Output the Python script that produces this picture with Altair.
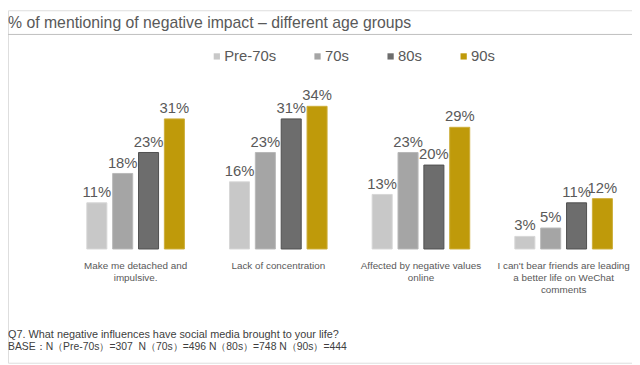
import altair as alt
import pandas as pd

categories = [
    "Make me detached and\nimpulsive.",
    "Lack of concentration",
    "Affected by negative values\nonline",
    "I can't bear friends are leading\na better life on WeChat\ncomments",
]
series = ["Pre-70s", "70s", "80s", "90s"]
values = {
    "Pre-70s": [11, 16, 13, 3],
    "70s": [18, 23, 23, 5],
    "80s": [23, 31, 20, 11],
    "90s": [31, 34, 29, 12],
}
colors = ["#C8C8C8", "#A5A5A5", "#6D6D6D", "#BF9A0A"]
strokes = ["#D6D6D6", "#B8B8B8", "#4F4F4F", "#CDAE3A"]

title_text = "% of mentioning of negative impact \u2013 different age groups"
foot1 = "Q7. What negative influences have social media brought to your life?"
foot2 = ("BASE\uff1aN\uff08Pre-70s\uff09=307\u00a0\u00a0N\uff0870s\uff09=496 "
         "N\uff0880s\uff09=748 N\uff0890s\uff09=444")

rows = []
for s in series:
    for c, v in zip(categories, values[s]):
        rows.append({"category": c, "series": s, "value": v, "label": f"{v}%"})
df = pd.DataFrame(rows)
cat_df = pd.DataFrame({"category": categories})

FONT = "Liberation Sans"
GRAY = "#595959"

xscale = alt.Scale(domain=categories, range=[57, 635], paddingInner=0.316, paddingOuter=0.158)
xoff = alt.XOffset("series:N", sort=series, scale=alt.Scale(domain=series, paddingInner=0.225, paddingOuter=0))
yscale = alt.Scale(domain=[0, 40], range=[241.8, 71.8], nice=False, zero=True)

base = alt.Chart(df)

bars = base.mark_bar(strokeWidth=1).encode(
    x=alt.X("category:N", sort=categories, scale=xscale, axis=None),
    xOffset=xoff,
    y=alt.Y("value:Q", scale=yscale, axis=None),
    color=alt.Color(
        "series:N",
        sort=series,
        scale=alt.Scale(domain=series, range=colors),
        legend=alt.Legend(
            title=None,
            orient="none",
            direction="horizontal",
            legendX=204,
            legendY=39,
            symbolType="square",
            symbolSize=40,
            symbolStrokeWidth=0,
            labelFontSize=15,
            labelFont=FONT,
            labelColor=GRAY,
            labelOffset=0,
            columnPadding=34,
        ),
    ),
    stroke=alt.Stroke("series:N", sort=series, scale=alt.Scale(domain=series, range=strokes), legend=None),
)

bar_labels = base.mark_text(font=FONT, fontSize=15, color=GRAY, baseline="alphabetic", dy=-6).encode(
    x=alt.X("category:N", sort=categories, scale=xscale, axis=None),
    xOffset=xoff,
    y=alt.Y("value:Q", scale=yscale, axis=None),
    text="label:N",
)

cat_labels = alt.Chart(cat_df).mark_text(
    font=FONT, fontSize=10, color=GRAY, baseline="alphabetic", lineBreak="\n", lineHeight=12
).encode(
    x=alt.X("category:N", sort=categories, scale=xscale, axis=None),
    y=alt.value(262),
    text="category:N",
)

title = alt.Chart(pd.DataFrame({"t": [title_text]})).mark_text(
    font=FONT, fontSize=16, color=GRAY, align="left", baseline="alphabetic"
).encode(x=alt.value(0), y=alt.value(18), text="t:N")

rule = alt.Chart(pd.DataFrame({"a": [0]})).mark_rule(color="#BFBFBF", strokeWidth=1).encode(
    x=alt.value(0), x2=alt.value(632), y=alt.value(24.5)
)

foot_a = alt.Chart(pd.DataFrame({"t": [foot1]})).mark_text(
    font=FONT, fontSize=11, color="#404040", align="left", baseline="alphabetic"
).encode(x=alt.value(0), y=alt.value(331.5), text="t:N")

foot_b = alt.Chart(pd.DataFrame({"t": [foot2]})).mark_text(
    font=FONT, fontSize=10.5, color="#404040", align="left", baseline="alphabetic"
).encode(x=alt.value(0), y=alt.value(344.5), text="t:N")

chart = alt.layer(bars, bar_labels, cat_labels, title, rule, foot_a, foot_b).properties(
    width=632, height=357, autosize=alt.AutoSizeParams(type="none"), padding=0
).configure_view(stroke=None).configure(background="white")

chart.save("out.html", embed_options={"renderer": "svg", "actions": False})
